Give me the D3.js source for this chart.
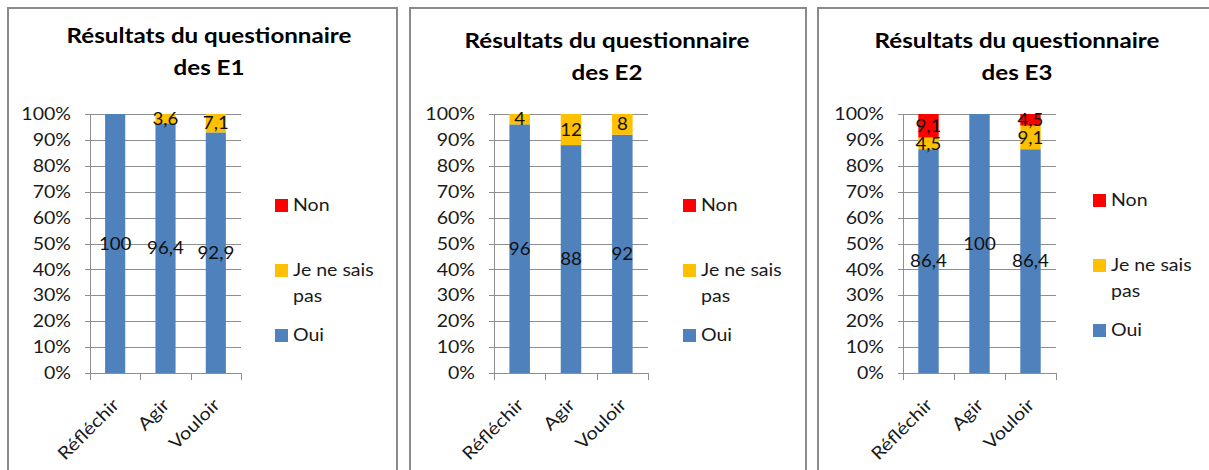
<!DOCTYPE html>
<html>
<head>
<meta charset="utf-8">
<script src="https://cdn.jsdelivr.net/npm/d3@7"></script>
<style>
  body { margin: 0; background: #fff; }
  svg { display: block; font-family: Lato, "Open Sans", sans-serif; }
</style>
</head>
<body>
<div id="chart"></div>
<script>
const categories = ["Réfléchir", "Agir", "Vouloir"];
const seriesNames = ["Oui", "Je ne sais pas", "Non"];
const yTicks = [0, 10, 20, 30, 40, 50, 60, 70, 80, 90, 100];

const titlesLine1 = ["Résultats du questionnaire", "Résultats du questionnaire", "Résultats du questionnaire"];
const titlesLine2 = ["des E1", "des E2", "des E3"];

// values per group, in category order
const ouiE1 = [100, 96.4, 92.9];
const jnspE1 = [0, 3.6, 7.1];
const nonE1 = [0, 0, 0];

const ouiE2 = [96, 88, 92];
const jnspE2 = [4, 12, 8];
const nonE2 = [0, 0, 0];

const ouiE3 = [86.4, 100, 86.4];
const jnspE3 = [4.5, 0, 9.1];
const nonE3 = [9.1, 0, 4.5];

const colors = { "Oui": "#4f81bd", "Je ne sais pas": "#ffc000", "Non": "#ff0000" };

const width = 1209, height = 470;
const SX = 1.15; // the source font runs wider than Lato
const svg = d3.select("#chart").append("svg")
  .attr("width", width).attr("height", height);

// text helper: horizontally stretched text, optional rotation
function addText(g, x, y, str, o) {
  o = o || {};
  const t = g.append("g")
    .attr("transform", `translate(${x},${y})` + (o.rotate ? ` rotate(${o.rotate})` : "") + ` scale(${o.sx || SX},1)`)
    .append("text")
    .attr("text-anchor", o.anchor || "start")
    .attr("dy", o.dy || 0)
    .attr("fill", o.fill || "#1a1a1a")
    .style("font-size", (o.size || 17) + "px")
    .text(str);
  if (o.bold) t.style("font-weight", "bold");
  return t;
}

const panels = [
  { left: 8,   right: 397,  plotL: 90,  plotR: 241,  titleX: 209,  titleY: 43, legX: 275,  legY: 199,
    data: [ouiE1, jnspE1, nonE1] },
  { left: 410, right: 806,  plotL: 494, plotR: 648,  titleX: 607,  titleY: 48, legX: 683,  legY: 199,
    data: [ouiE2, jnspE2, nonE2] },
  { left: 818, right: 1230, plotL: 903, plotR: 1056, titleX: 1017, titleY: 48, legX: 1093, legY: 194,
    data: [ouiE3, jnspE3, nonE3] }
];

const plotTop = 114, plotBottom = 373;
const gridColor = "#8e8e8e";
const fmt = v => String(v).replace(".", ",");

panels.forEach((p, pi) => {
  const g = svg.append("g");

  g.append("rect")
    .attr("x", p.left).attr("y", 8)
    .attr("width", p.right - p.left).attr("height", height + 20)
    .attr("fill", "#fff").attr("stroke", "#8a8a8a").attr("stroke-width", 2);

  addText(g, p.titleX, p.titleY, titlesLine1[pi], { anchor: "middle", size: 21, bold: true, fill: "#000" });
  addText(g, p.titleX, p.titleY + 32, titlesLine2[pi], { anchor: "middle", size: 21, bold: true, fill: "#000" });

  const x = d3.scaleBand().domain(categories).range([p.plotL, p.plotR]);
  const y = d3.scaleLinear().domain([0, 100]).range([plotBottom, plotTop]);

  // gridlines + y tick labels
  g.selectAll(null).data(yTicks).enter().append("line")
    .attr("x1", p.plotL - 5).attr("x2", p.plotR)
    .attr("y1", d => Math.round(y(d)) + 0.5).attr("y2", d => Math.round(y(d)) + 0.5)
    .attr("stroke", gridColor);
  yTicks.forEach(t => {
    addText(g, p.plotL - 19, y(t), t + "%", { anchor: "end", dy: "0.36em" });
  });
  g.append("line")
    .attr("x1", p.plotL + 0.5).attr("x2", p.plotL + 0.5)
    .attr("y1", plotTop).attr("y2", plotBottom + 7)
    .attr("stroke", gridColor);

  // stacked bars
  const rows = categories.map((c, i) => {
    const r = { cat: c };
    seriesNames.forEach((s, si) => { r[s] = p.data[si][i]; });
    return r;
  });
  const stacked = d3.stack().keys(seriesNames)(rows);
  const barW = x.bandwidth() * 0.4;

  stacked.forEach(layer => {
    g.selectAll(null)
      .data(layer.filter(d => d[1] - d[0] > 0))
      .enter().append("rect")
      .attr("x", d => x(d.data.cat) + (x.bandwidth() - barW) / 2)
      .attr("y", d => y(d[1]))
      .attr("width", barW)
      .attr("height", d => y(d[0]) - y(d[1]))
      .attr("fill", colors[layer.key]);
  });

  stacked.forEach(layer => {
    layer.filter(d => d[1] - d[0] > 0).forEach(d => {
      addText(g, x(d.data.cat) + x.bandwidth() / 2, y((d[0] + d[1]) / 2), fmt(d.data[layer.key]),
        { anchor: "middle", dy: "0.36em", fill: "#111", sx: 1.1 });
    });
  });

  // x axis ticks at category boundaries
  const bounds = categories.map(c => x(c)).concat([p.plotR]);
  g.selectAll(null).data(bounds).enter().append("line")
    .attr("x1", d => Math.round(d) + 0.5).attr("x2", d => Math.round(d) + 0.5)
    .attr("y1", plotBottom).attr("y2", plotBottom + 7)
    .attr("stroke", gridColor);

  categories.forEach(c => {
    addText(g, x(c) + x.bandwidth() / 2 + 5, plotBottom + 33, c, { anchor: "end", rotate: -45, size: 17.5 });
  });

  // legend (top to bottom: Non, Je ne sais pas, Oui)
  const legendItems = [
    { key: "Non", lines: ["Non"], dy: 0 },
    { key: "Je ne sais pas", lines: ["Je ne sais", "pas"], dy: 65 },
    { key: "Oui", lines: ["Oui"], dy: 130 }
  ];
  legendItems.forEach(it => {
    g.append("rect")
      .attr("x", p.legX).attr("y", p.legY + it.dy)
      .attr("width", 13).attr("height", 13)
      .attr("fill", colors[it.key]);
    it.lines.forEach((ln, li) => {
      addText(g, p.legX + 18, p.legY + it.dy + 12 + li * 26, ln);
    });
  });
});
</script>
</body>
</html>
